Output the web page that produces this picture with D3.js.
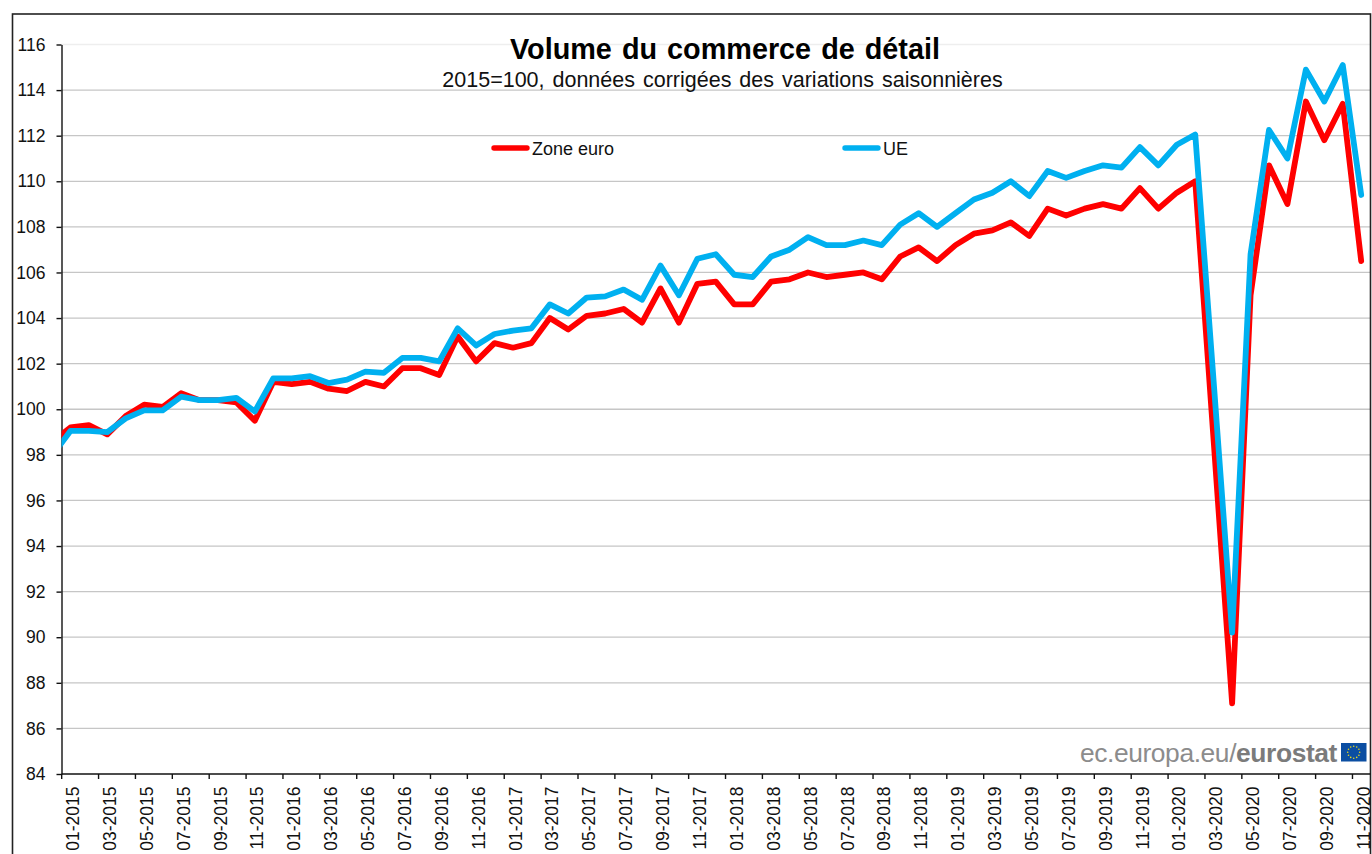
<!DOCTYPE html>
<html>
<head>
<meta charset="utf-8">
<script src="https://cdn.jsdelivr.net/npm/d3@7"></script>
<style>
  body { margin: 0; background: #fff; overflow: hidden; }
  text { font-family: "Liberation Sans", Arial, sans-serif; fill: #111; }
</style>
</head>
<body>
<svg id="chart"></svg>
<script>
const years = [2015, 2016, 2017, 2018, 2019, 2020];
// 12-2014 is only there for the stub cut off by the y axis
const months = ["12-2014"];
years.forEach(y => {
  d3.range(1, y === 2020 ? 12 : 13).forEach(m => months.push(`${String(m).padStart(2, "0")}-${y}`));
});

const zoneEuro = [98.55,
  99.2, 99.3, 98.9, 99.7, 100.2, 100.1, 100.7, 100.4, 100.4, 100.3, 99.5, 101.2,
  101.1, 101.2, 100.9, 100.8, 101.2, 101.0, 101.8, 101.8, 101.5, 103.2, 102.1, 102.9,
  102.7, 102.9, 104.0, 103.5, 104.1, 104.2, 104.4, 103.8, 105.3, 103.8, 105.5, 105.6,
  104.6, 104.6, 105.6, 105.7, 106.0, 105.8, 105.9, 106.0, 105.7, 106.7, 107.1, 106.5,
  107.2, 107.7, 107.85, 108.2, 107.6, 108.8, 108.5, 108.8, 109.0, 108.8, 109.7, 108.8,
  109.5, 110.0, 98.6, 87.1, 105.0, 110.7, 109.0, 113.5, 111.8, 113.4, 106.5];

const ue = [97.95,
  99.05, 99.05, 99.0, 99.6, 99.95, 99.95, 100.55, 100.4, 100.4, 100.5, 99.9, 101.35,
  101.35, 101.45, 101.15, 101.3, 101.65, 101.6, 102.25, 102.25, 102.1, 103.55, 102.8, 103.3,
  103.45, 103.55, 104.6, 104.2, 104.9, 104.95, 105.25, 104.8, 106.3, 105.0, 106.6, 106.8,
  105.9, 105.8, 106.7, 107.0, 107.55, 107.2, 107.2, 107.4, 107.2, 108.1, 108.6, 108.0,
  108.6, 109.2, 109.5, 110.0, 109.35, 110.45, 110.15, 110.45, 110.7, 110.6, 111.5, 110.7,
  111.6, 112.05, 101.2, 90.2, 106.8, 112.25, 111.0, 114.9, 113.5, 115.1, 109.4];

const yTicks = d3.range(84, 117, 2);
const xLabels = months.slice(1).filter((d, i) => i % 2 === 0);

const width = 1372, height = 854;
const plot = { left: 61.5, right: 1370.5, top: 44.5, bottom: 774 };
const step = 18.44;

const svg = d3.select("#chart").attr("width", width).attr("height", height).style("display", "block");

const x = d3.scalePoint()
  .domain(months)
  .range([70.4 - step, 70.4 + step * (months.length - 2)]);

const y = d3.scaleLinear().domain([84, 116]).range([plot.bottom, plot.top]);

svg.append("defs").append("clipPath").attr("id", "plot")
  .append("rect")
  .attr("x", plot.left).attr("y", plot.top)
  .attr("width", plot.right - plot.left).attr("height", plot.bottom - plot.top);

// grid
svg.append("g").selectAll("line")
  .data(yTicks.filter(d => d > 84))
  .join("line")
    .attr("x1", plot.left).attr("x2", plot.right)
    .attr("y1", d => y(d)).attr("y2", d => y(d))
    .attr("stroke", d => d === 116 ? "#eeeeee" : "#c6c6c6")
    .attr("stroke-width", 1.3);

// frame, the bottom edge falls outside the picture
svg.append("rect")
  .attr("x", 12.5).attr("y", 14)
  .attr("width", 1358).attr("height", 900)
  .attr("fill", "none")
  .attr("stroke", "#222")
  .attr("stroke-width", 1.6);

// axes
const yAxis = svg.append("g")
  .attr("transform", `translate(${plot.left},0)`)
  .call(d3.axisLeft(y).tickValues(yTicks).tickSize(5).tickPadding(11).tickSizeOuter(0));
yAxis.selectAll("text").style("font-size", "17.5px");
yAxis.selectAll("path, line").attr("stroke", "#111").attr("stroke-width", 1.4);

const xAxis = svg.append("g")
  .attr("transform", `translate(0,${plot.bottom})`)
  .call(d3.axisBottom(x).tickValues(xLabels).tickSize(5).tickSizeOuter(0));
xAxis.select("path").attr("d", `M${plot.left},0H${plot.right}`).attr("stroke", "#111").attr("stroke-width", 1.4);
xAxis.selectAll(".tick line")
  .attr("x1", -step / 2).attr("x2", -step / 2)
  .attr("stroke", "#111").attr("stroke-width", 1.4);
xAxis.selectAll("text")
  .style("font-size", "17.5px")
  .attr("transform", "rotate(-90)")
  .attr("text-anchor", "end")
  .attr("x", -12.5).attr("y", 2).attr("dy", "0.35em");

// lines
const line = d3.line().x((d, i) => x(months[i])).y(d => y(d));

const series = [
  { name: "Zone euro", values: zoneEuro, color: "#ff0000", lx: 492 },
  { name: "UE", values: ue, color: "#00b0f0", lx: 843 }
];

svg.append("g").attr("clip-path", "url(#plot)")
  .selectAll("path")
  .data(series)
  .join("path")
    .attr("d", d => line(d.values))
    .attr("fill", "none")
    .attr("stroke", d => d.color)
    .attr("stroke-width", 5.8)
    .attr("stroke-linejoin", "round")
    .attr("stroke-linecap", "round");

// legend
const legend = svg.append("g").selectAll("g")
  .data(series)
  .join("g")
    .attr("transform", d => `translate(${d.lx},148)`);

legend.append("line")
  .attr("x1", 2).attr("x2", 35)
  .attr("stroke", d => d.color)
  .attr("stroke-width", 5.4)
  .attr("stroke-linecap", "round");

legend.append("text")
  .attr("x", 40).attr("y", 7)
  .style("font-size", "18px")
  .text(d => d.name);

// titles
svg.append("text")
  .attr("x", 725).attr("y", 59)
  .attr("text-anchor", "middle")
  .style("font-size", "28.8px")
  .style("font-weight", "bold")
  .style("word-spacing", "2px")
  .style("fill", "#000")
  .text("Volume du commerce de détail");

svg.append("text")
  .attr("x", 722.5).attr("y", 87)
  .attr("text-anchor", "middle")
  .style("font-size", "21.5px")
  .style("word-spacing", "2px")
  .text("2015=100, données corrigées des variations saisonnières");

// eurostat logo
const logo = svg.append("text")
  .attr("x", 1337).attr("y", 762)
  .attr("text-anchor", "end")
  .style("font-size", "26.4px")
  .style("letter-spacing", "-0.4px");
logo.append("tspan").style("fill", "#8c8c8c").text("ec.europa.eu/");
logo.append("tspan").style("fill", "#7b7b7b").style("font-weight", "bold").text("eurostat");

svg.append("rect")
  .attr("x", 1341).attr("y", 743)
  .attr("width", 25.5).attr("height", 18.5)
  .attr("fill", "#0b4ea2");

svg.append("g").selectAll("circle")
  .data(d3.range(12))
  .join("circle")
    .attr("cx", d => 1353.7 + 6 * Math.cos(d * Math.PI / 6))
    .attr("cy", d => 752.2 + 6 * Math.sin(d * Math.PI / 6))
    .attr("r", 0.8)
    .attr("fill", "#e8d820");
</script>
</body>
</html>
